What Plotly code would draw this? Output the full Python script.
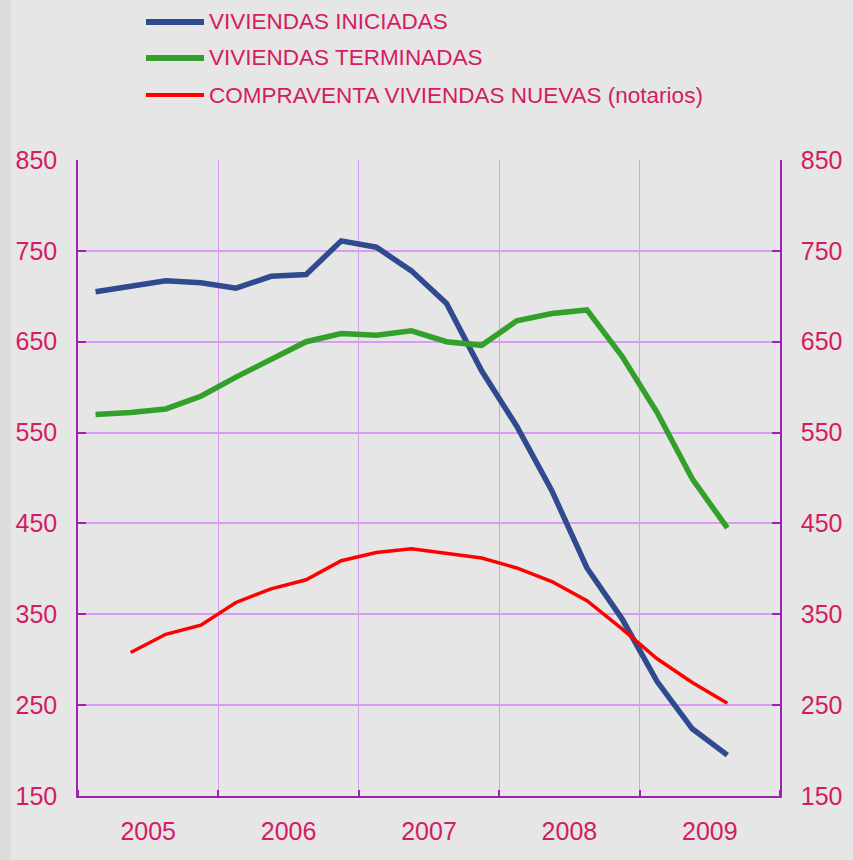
import plotly.graph_objects as go

quarters = ["2005T1", "2005T2", "2005T3", "2005T4",
            "2006T1", "2006T2", "2006T3", "2006T4",
            "2007T1", "2007T2", "2007T3", "2007T4",
            "2008T1", "2008T2", "2008T3", "2008T4",
            "2009T1", "2009T2", "2009T3"]

iniciadas = [705, 711, 717, 715, 709, 722, 724, 761, 754, 728,
             692, 618, 557, 486, 401, 345, 276, 224, 195]
terminadas = [570, 572, 576, 590, 611, 630, 650, 659, 657, 662,
              650, 646, 673, 681, 685, 634, 572, 499, 445]
compraventa = [None, 308, 328, 338, 363, 378, 388, 409, 418, 422,
               417, 412, 401, 386, 365, 334, 301, 275, 252]

years = [2005, 2006, 2007, 2008, 2009]
year_labels = ["2005", "2006", "2007", "2008", "2009"]
yticks = [150, 250, 350, 450, 550, 650, 750, 850]

series_names = ["VIVIENDAS INICIADAS", "VIVIENDAS TERMINADAS",
                "COMPRAVENTA VIVIENDAS NUEVAS (notarios)"]


def qpos(label):
    y = int(label[:4])
    q = int(label[-1])
    return y + (q - 0.5) / 4.0


x = [qpos(q) for q in quarters]

TEXT = "#d41b63"
GRID = "#d99cf2"
AXIS = "#a020b4"
FONT = "Liberation Sans"

colors = ["#2f4a8e", "#33a02c", "#ff0000"]
widths = [5.5, 5.5, 3.5]
data = [iniciadas, terminadas, compraventa]

T, B, L, R = 160, 64, 78, 73
PH = 860 - T - B
PW = 853 - L - R

fig = go.Figure()
for name, vals, c, w in zip(series_names, data, colors, widths):
    fig.add_trace(go.Scatter(x=x, y=vals, mode="lines", name=name,
                             line=dict(color=c, width=w),
                             showlegend=False))
# right axis carrier
fig.add_trace(go.Scatter(x=x, y=compraventa, mode="lines", yaxis="y2",
                         line=dict(color="rgba(0,0,0,0)", width=0),
                         showlegend=False, hoverinfo="skip"))

fig.update_layout(
    width=853, height=860,
    margin=dict(l=L, r=R, t=T, b=B),
    paper_bgcolor="#e6e6e6", plot_bgcolor="#e6e6e6",
    font=dict(family=FONT, color=TEXT),
    xaxis=dict(range=[2005, 2010],
               tickmode="array",
               tickvals=[yv + 0.5 for yv in years],
               ticktext=year_labels,
               ticks="", showgrid=False, zeroline=False,
               showline=True, linecolor=AXIS, linewidth=1.5,
               tickfont=dict(size=25, color=TEXT, family=FONT),
               ticklabelstandoff=12,
               minor=dict(tickmode="array",
                          tickvals=[2005, 2006, 2007, 2008, 2009, 2010],
                          showgrid=True, gridcolor=GRID, gridwidth=1,
                          ticks="inside", ticklen=6, tickcolor=AXIS,
                          tickwidth=1.5)),
    yaxis=dict(range=[150, 850], tickmode="array", tickvals=yticks,
               showgrid=True, gridcolor=GRID, gridwidth=1.5,
               zeroline=False, showline=True, linecolor=AXIS,
               linewidth=1.5, ticks="inside", ticklen=8, tickcolor=AXIS,
               tickwidth=1.5,
               tickfont=dict(size=25, color=TEXT, family=FONT),
               ticklabelstandoff=14),
    yaxis2=dict(range=[150, 850], tickmode="array", tickvals=yticks,
                overlaying="y", side="right", showgrid=False,
                zeroline=False, showline=True, linecolor=AXIS,
                linewidth=1.5, ticks="inside", ticklen=8, tickcolor=AXIS,
                tickwidth=1.5,
                tickfont=dict(size=25, color=TEXT, family=FONT),
                ticklabelstandoff=14),
)

# left darker strip of the panel
fig.add_shape(type="rect", xref="paper", yref="paper",
              x0=-L / PW, x1=(11 - L) / PW, y0=-B / PH, y1=(PH + T) / PH,
              fillcolor="#dcdcdc", line=dict(width=0), layer="below")

# manual legend
leg_y = [22, 58, 95]
for name, c, w, py in zip(series_names, colors, widths, leg_y):
    yp = (T + PH - py) / PH
    fig.add_shape(type="line", xref="paper", yref="paper",
                  x0=(146 - L) / PW, x1=(204 - L) / PW, y0=yp, y1=yp,
                  line=dict(color=c, width=w + 0.5))
    fig.add_annotation(xref="paper", yref="paper",
                       x=(207 - L) / PW, y=yp, text=name,
                       showarrow=False, xanchor="left", yanchor="middle",
                       font=dict(size=22.5, color=TEXT, family=FONT))

fig.write_html("out.html",
               config={"displayModeBar": False},
               post_script="document.body.style.margin='0';"
                           "document.body.style.overflow='hidden';")
